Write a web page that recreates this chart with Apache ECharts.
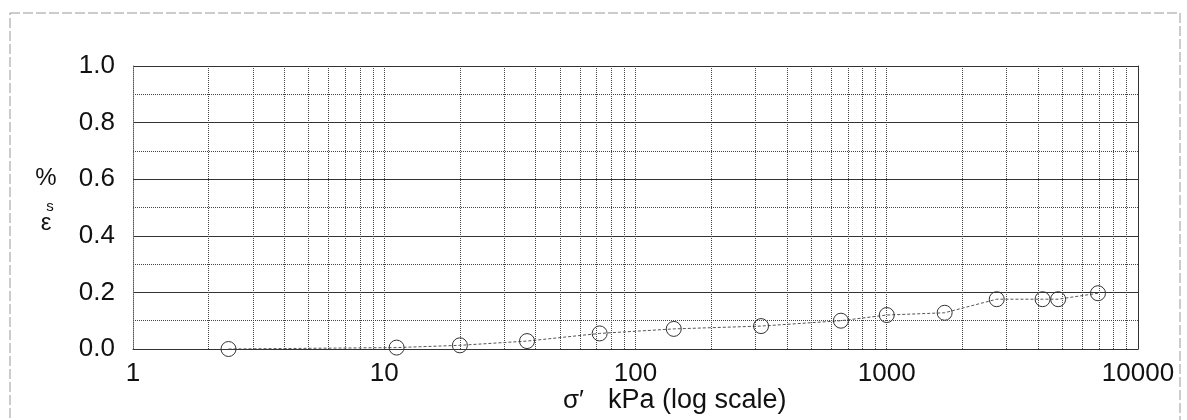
<!DOCTYPE html>
<html>
<head>
<meta charset="utf-8">
<script src="https://cdn.jsdelivr.net/npm/echarts@6/dist/echarts.min.js"></script>
<style>
html,body{margin:0;padding:0;background:#fff;}
#chart{width:1187px;height:420px;}
</style>
</head>
<body>
<div id="chart"></div>
<script>
// Effective stress (kPa, log scale)
const stress = [2.4, 11.2, 20, 37, 72, 142, 316, 657, 1000, 1700, 2740, 4170, 4810, 6930];
// Strain eps_s (%)
const strain = [0.000, 0.005, 0.013, 0.028, 0.055, 0.071, 0.081, 0.100, 0.120, 0.128, 0.176, 0.176, 0.176, 0.197];
// Tick labels
const xTickValues = [1, 10, 100, 1000, 10000];
const xTickLabels = ['1', '10', '100', '1000', '10000'];
const yTickLabels = ['0.0', '0.2', '0.4', '0.6', '0.8', '1.0'];

// vertical log grid lines at 2..9 of each decade, plus the decade lines
const logGrid = [];
for (let d = 1; d < 10000; d *= 10) {
  for (let m = (d === 1 ? 2 : 1); m <= 9; m++) logGrid.push(m * d);
}

const points = stress.map((s, i) => [s, strain[i]]);
const font = 'Liberation Sans, Arial, sans-serif';

const chart = echarts.init(document.getElementById('chart'), null, {renderer: 'canvas'});
chart.setOption({
  animation: false,
  backgroundColor: '#ffffff',
  grid: {left: 133, right: 49, top: 66, bottom: 71, containLabel: false},
  xAxis: {
    type: 'log', logBase: 10, min: 1, max: 10000,
    axisLine: {show: true, lineStyle: {color: '#333', width: 1}},
    axisTick: {show: false},
    splitLine: {show: false},
    axisLabel: {
      color: '#111', fontFamily: font, fontSize: 26, lineHeight: 21, margin: 14,
      formatter: v => { const i = xTickValues.indexOf(Math.round(v)); return i >= 0 ? xTickLabels[i] : ''; }
    }
  },
  yAxis: [{
    type: 'value', min: 0, max: 1, interval: 0.2,
    axisLine: {show: true, lineStyle: {color: '#555', type: 'dotted', width: 1}},
    axisTick: {show: false},
    axisLabel: {
      color: '#111', fontFamily: font, fontSize: 26, margin: 18,
      formatter: v => yTickLabels[Math.round(v / 0.2)]
    },
    splitLine: {show: true, lineStyle: {color: '#333', width: 1, type: 'solid'}},
    minorTick: {show: false, splitNumber: 2},
    minorSplitLine: {show: true, lineStyle: {color: '#444', width: 1, type: 'dotted'}}
  }, {
    type: 'value', min: 0, max: 1, position: 'right',
    axisLine: {show: true, onZero: false, lineStyle: {color: '#333', width: 1}},
    axisTick: {show: false}, axisLabel: {show: false}, splitLine: {show: false}
  }],
  series: [{
    type: 'line',
    data: points,
    symbol: 'circle',
    symbolSize: 15,
    showSymbol: true,
    itemStyle: {color: 'rgba(255,255,255,0)', borderColor: '#333', borderWidth: 1},
    lineStyle: {color: '#555', width: 1, type: [3, 2]},
    markLine: {
      silent: true, symbol: 'none', animation: false,
      label: {show: false},
      lineStyle: {color: '#444', width: 1, type: 'dotted'},
      data: logGrid.map(v => ({xAxis: v}))
    },
    z: 5
  }],
  graphic: [
    {type: 'rect', silent: true, z: -1,
     shape: {x: 10, y: 13, width: 1170, height: 430},
     style: {fill: null, stroke: '#999', lineWidth: 1, lineDash: [10, 3]}},
    {type: 'text', x: 46, y: 223,
     style: {text: 'ε', fontFamily: font, fontSize: 24, fill: '#111', align: 'center', verticalAlign: 'middle'}},
    {type: 'text', x: 50, y: 207,
     style: {text: 's', fontFamily: font, fontSize: 15, fill: '#111', align: 'center', verticalAlign: 'middle'}},
    {type: 'text', x: 46, y: 178,
     style: {text: '%', fontFamily: font, fontSize: 24, fill: '#111', align: 'center', verticalAlign: 'middle'}},
    {type: 'text', left: 563, top: 388,
     style: {text: 'σ′', fontFamily: font, fontSize: 26, fill: '#111'}},
    {type: 'text', left: 608, top: 387,
     style: {text: 'kPa (log scale)', fontFamily: font, fontSize: 27, fill: '#111'}}
  ]
});
</script>
</body>
</html>
